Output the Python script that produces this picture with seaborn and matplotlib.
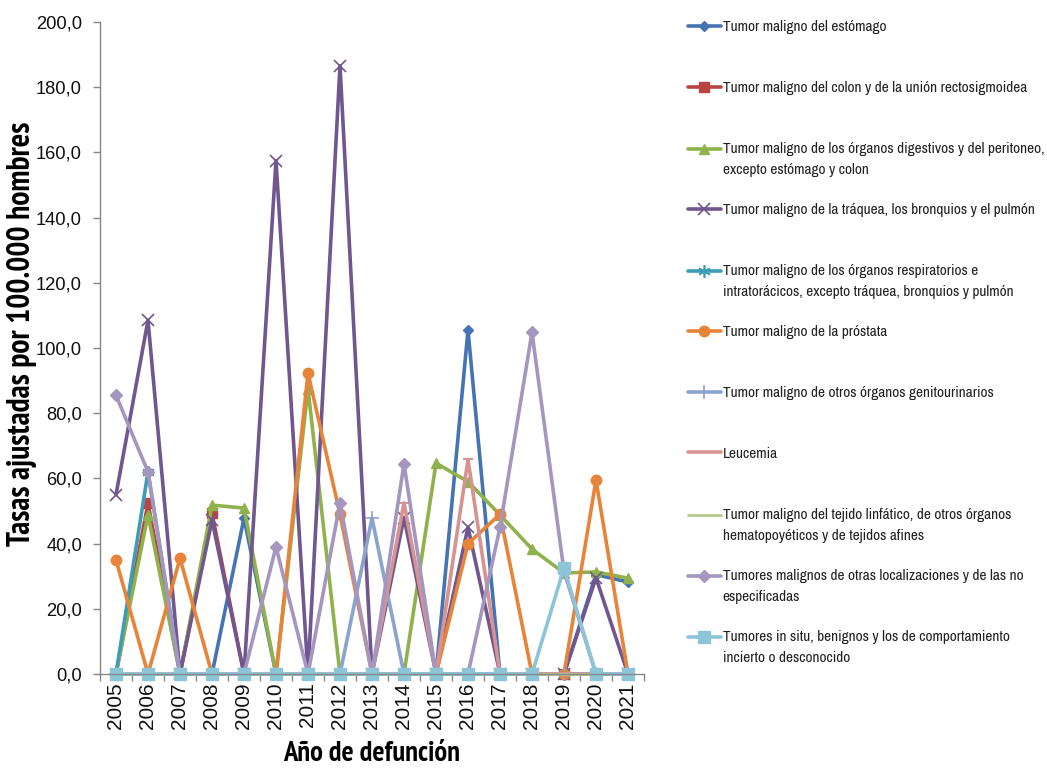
import os
import matplotlib
matplotlib.use("Agg")
import matplotlib.pyplot as plt
from matplotlib import font_manager
from matplotlib.font_manager import FontProperties
from matplotlib.legend_handler import HandlerLine2D
from matplotlib.lines import Line2D
from matplotlib.transforms import Affine2D
from matplotlib.ticker import FixedLocator, FuncFormatter
import seaborn as sns

# ---- data -------------------------------------------------------------
years = ["2005", "2006", "2007", "2008", "2009", "2010", "2011", "2012", "2013",
         "2014", "2015", "2016", "2017", "2018", "2019", "2020", "2021"]

estomago = [0, 0, 0, 0, 47.8, 0, 0, 0, 0, 0, 0, 105.5, 0, 0, 0, 30.5, 28.2]
colon = [0, 52.4, 0, 49.3, 0, 0, 0, 0, 0, 0, 0, 0, 0, 0, 0, 0, 0]
digestivos = [0, 48.8, 0, 51.8, 50.9, 0, 87.5, 0, 0, 0, 64.7, 59.0, 48.8, 38.3, 31.0, 31.3, 29.4]
pulmon = [55.0, 108.5, 0, 47.2, 0, 157.5, 0, 186.6, 0, 48.0, 0, 45.0, 0, 0, 0, 29.5, 0]
respiratorios = [0, 62.0, 0, 0, 0, 0, 0, 0, 0, 0, 0, 0, 0, 0, 0, 0, 0]
prostata = [35.0, 0, 35.5, 0, 0, 0, 92.3, 49.0, 0, 0, 0, 40.0, 49.0, 0, 0, 59.5, 0]
genitourinarios = [0, 0, 0, 0, 0, 0, 0, 0, 47.8, 0, 0, 0, 0, 0, 0, 0, 0]
leucemia = [0, 0, 0, 0, 0, 0, 0, 0, 0, 52.5, 0, 65.8, 0, 0, 0, 0, 0]
linfatico = [0, 0, 0, 0, 0, 0, 0, 0, 0, 0, 0, 0, 0, 0, 0, 0, 0]
otras = [85.5, 62.0, 0, 0, 0, 39.0, 0, 52.5, 0, 64.5, 0, 0, 45.0, 104.8, 31.5, 0, 0]
in_situ = [0, 0, 0, 0, 0, 0, 0, 0, 0, 0, 0, 0, 0, 0, 32.5, 0, 0]

labels = [
    "Tumor maligno del estómago",
    "Tumor maligno del colon y de la unión rectosigmoidea",
    "Tumor maligno de los órganos digestivos y del peritoneo,\nexcepto estómago y colon",
    "Tumor maligno de la tráquea, los bronquios y el pulmón",
    "Tumor maligno de los órganos respiratorios e\nintratorácicos, excepto tráquea, bronquios y pulmón",
    "Tumor maligno de la próstata",
    "Tumor maligno de otros órganos genitourinarios",
    "Leucemia",
    "Tumor maligno del tejido linfático, de otros órganos\nhematopoyéticos y de tejidos afines",
    "Tumores malignos de otras localizaciones y de las no\nespecificadas",
    "Tumores in situ, benignos y los de comportamiento\nincierto o desconocido",
]
series = [estomago, colon, digestivos, pulmon, respiratorios, prostata,
          genitourinarios, leucemia, linfatico, otras, in_situ]

styles = [
    dict(color="#4573B4", marker="D", markersize=5.5, mew=1.0),
    dict(color="#B94441", marker="s", markersize=6.5, mew=1.0),
    dict(color="#8FB24C", marker="^", markersize=7.5, mew=1.0),
    dict(color="#71578F", marker="x", markersize=8, mew=1.2),
    dict(color="#3E9DB6", marker=(6, 2, 0), markersize=9, mew=1.2),
    dict(color="#E8843A", marker="o", markersize=7.5, mew=1.0),
    dict(color="#8AA4CE", marker="+", markersize=10, mew=1.2),
    dict(color="#D69391", marker="_", markersize=7, mew=1.5),
    dict(color="#B4CB8E", marker=None, markersize=0, mew=0),
    dict(color="#A596BF", marker="D", markersize=6, mew=1.0),
    dict(color="#8CC5D8", marker="s", markersize=8.5, mew=1.0),
]


# ---- fonts ----------------------------------------------------------------
def _weight(f):
    w = f.weight
    if isinstance(w, str):
        w = font_manager.weight_dict.get(w, 400)
    return w


def find_font(bold, condensed):
    best, best_rank = None, 99
    for f in font_manager.fontManager.ttflist:
        fn = os.path.basename(f.fname).lower()
        if "italic" in fn or "oblique" in fn or f.style != "normal":
            continue
        if (_weight(f) >= 600) != bold:
            continue
        if bold and _weight(f) > 750:
            continue
        if condensed:
            if "semi" in fn or "extra" in fn or "ultra" in fn:
                continue
            if "liberationsansnarrow" in fn:
                rank = 0
            elif "narrow" in fn:
                rank = 1
            elif "condensed" in fn or f.stretch == "condensed":
                order = ["roboto", "noto", "opensans", "dejavu"]
                rank = 2 + next((i for i, o in enumerate(order) if o in fn), 5)
            else:
                continue
        else:
            if fn.startswith("liberationsans-"):
                rank = 0
            elif "arial" in fn:
                rank = 1
            else:
                continue
        if rank < best_rank:
            best, best_rank = f.fname, rank
    if best is None:
        return FontProperties(family="DejaVu Sans",
                              weight="bold" if bold else "normal")
    return FontProperties(fname=best)


sns.set_theme(style="white")
regular = find_font(False, False)
narrow = find_font(False, True)
narrow_bold = find_font(True, True)
plt.rcParams["font.family"] = [regular.get_name(), "DejaVu Sans"]

fig = plt.figure(figsize=(10.47, 7.70), dpi=100)
renderer = fig.canvas.get_renderer()


def sized(fp, text, target_px):
    """Copy of fp whose size makes `text` about target_px wide."""
    p = fp.copy()
    p.set_size(20)
    t = fig.text(0, 0, text, fontproperties=p)
    w = t.get_window_extent(renderer).width
    t.remove()
    p.set_size(20 * target_px / w)
    return p


ax_left, ax_bottom, ax_w, ax_h = 100, 674, 544, 652   # pixels
ax = fig.add_axes([ax_left / 1047, 1 - ax_bottom / 770, ax_w / 1047, ax_h / 770])

xpos = list(range(len(years)))
for vals, lab, st in zip(series, labels, styles):
    lw = 2.0 if st["marker"] is None else 2.6
    sns.lineplot(x=xpos, y=vals, ax=ax, color=st["color"], label=lab,
                 linewidth=lw, marker=st["marker"],
                 markersize=st["markersize"], markeredgecolor=st["color"],
                 markerfacecolor=st["color"], markeredgewidth=st["mew"],
                 clip_on=False, sort=False)

# ---- axes ---------------------------------------------------------------
axis_color = "#868686"
ax.set_xlim(-0.5, len(years) - 0.5)
ax.set_ylim(0, 200)
for side in ("top", "right"):
    ax.spines[side].set_visible(False)
for side in ("left", "bottom"):
    ax.spines[side].set_color(axis_color)
    ax.spines[side].set_linewidth(1.0)

tick_fp = sized(regular, "200,0", 46)
ax.yaxis.set_major_locator(FixedLocator(list(range(0, 201, 20))))
ax.yaxis.set_major_formatter(FuncFormatter(lambda v, p: f"{v:.1f}".replace(".", ",")))
ax.tick_params(axis="y", which="major", direction="out", length=5, width=1,
               color=axis_color, pad=8, labelcolor="#111111", left=True)
for lab in ax.get_yticklabels():
    lab.set_fontproperties(tick_fp)

xt_fp = regular.copy()
xt_fp.set_size(15)
ax.xaxis.set_major_locator(FixedLocator(xpos))
ax.set_xticklabels(years, rotation=90, color="#111111", fontproperties=xt_fp)
ax.xaxis.set_minor_locator(FixedLocator([i - 0.5 for i in range(len(years) + 1)]))
ax.tick_params(axis="x", which="major", length=0, pad=6, bottom=True)
ax.tick_params(axis="x", which="minor", direction="out", length=5, width=1,
               color=axis_color, bottom=True)
ax.grid(False)

ylab_fp = sized(narrow_bold, "Tasas ajustadas por 100.000 hombres", 426)
xlab_fp = sized(narrow_bold, "Año de defunción", 177)
ax.set_ylabel("Tasas ajustadas por 100.000 hombres", fontproperties=ylab_fp,
              color="#000000")
# right edge of the rotated label near x=37 px, centred around y=334 px
ax.yaxis.set_label_coords((37 - ax_left) / ax_w, (ax_bottom - 334) / ax_h)
ax.set_xlabel("Año de defunción", fontproperties=xlab_fp, labelpad=9,
              color="#000000")


# ---- legend: one block per entry, marker level with the first text line ----
class FirstLineHandler(HandlerLine2D):
    def __init__(self, shift, **kw):
        super().__init__(**kw)
        self.shift = shift

    def create_artists(self, legend, orig_handle, xdescent, ydescent, width,
                       height, fontsize, trans):
        t = Affine2D().translate(0, self.shift) + trans
        return super().create_artists(legend, orig_handle, xdescent, ydescent,
                                      width, height, fontsize, t)


handles, _ = ax.get_legend_handles_labels()
if ax.get_legend() is not None:
    ax.get_legend().remove()

leg_fp = sized(narrow, "Tumor maligno del estómago", 163)
leg_fs = leg_fp.get_size_in_points()
_, lp_h, lp_d = renderer.get_text_width_height_descent("lp", leg_fp, ismath=False)
line_gap_px = 18.0
line_spacing = line_gap_px / (lp_h - lp_d)
shift_pt = 0.5 * (line_gap_px + lp_d) * 72 / fig.dpi

first_center, pitch = 27.0, 60.9
for i, (h, lab) in enumerate(zip(handles, labels)):
    two_lines = "\n" in lab
    top_px = first_center + pitch * i - 0.5 * (lp_h - lp_d) - 1
    leg = fig.legend([h], [lab], loc="upper left",
                     bbox_to_anchor=(688 / 1047, 1 - top_px / 770),
                     frameon=False, borderpad=0, borderaxespad=0,
                     handlelength=33 / (leg_fs * fig.dpi / 72), handletextpad=0.12,
                     prop=leg_fp,
                     handler_map={Line2D: FirstLineHandler(shift=shift_pt if two_lines else 0)})
    for t in leg.get_texts():
        t.set_linespacing(line_spacing)
        t.set_color("#222222")

fig.savefig("out.png", dpi=100)
